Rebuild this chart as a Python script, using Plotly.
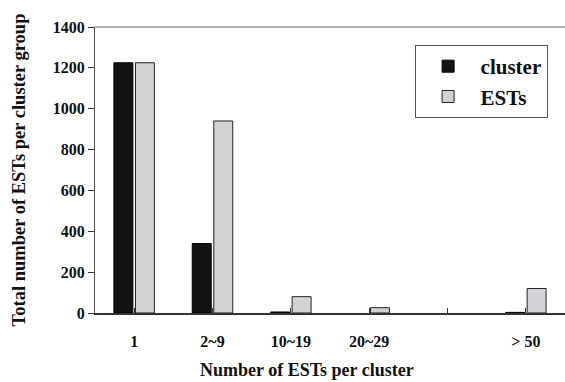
import plotly.graph_objects as go

categories = ["1", "2~9", "10~19", "20~29", "30~49", "> 50"]
tick_labels = ["1", "2~9", "10~19", "20~29", "", "> 50"]
cluster_vals = [1225, 340, 5, None, None, 3]
est_vals = [1225, 940, 80, 26, None, 120]
y_ticks = [0, 200, 400, 600, 800, 1000, 1200, 1400]

font_family = "Liberation Serif"

fig = go.Figure()
fig.add_trace(go.Bar(
    x=categories, y=cluster_vals, name="<b>cluster</b>",
    marker=dict(color="#141414", line=dict(color="#000000", width=1)),
))
fig.add_trace(go.Bar(
    x=categories, y=est_vals, name="<b>ESTs</b>",
    marker=dict(color="#d3d3d5", line=dict(color="#222222", width=1)),
))

fig.update_layout(
    width=565, height=382,
    margin=dict(l=95, r=0, t=27, b=69),
    paper_bgcolor="white", plot_bgcolor="white",
    barmode="group", bargap=0.45, bargroupgap=0.12,
    font=dict(family=font_family, color="#111111", size=16),
    showlegend=True,
    legend=dict(
        x=0.68, y=0.937, xanchor="left", yanchor="top",
        bordercolor="#555555", borderwidth=1, bgcolor="white",
        font=dict(family=font_family, size=21, color="#111111"),
        itemwidth=55, tracegroupgap=0,
    ),
)

fig.update_xaxes(
    type="category",
    tickvals=categories, ticktext=["<b>%s</b>" % t if t else "" for t in tick_labels],
    ticks="inside", ticklen=5, tickcolor="#333333",
    showline=True, linecolor="#333333", linewidth=2,
    showgrid=False, zeroline=False, automargin=False,
    ticklabelstandoff=13,
    tickfont=dict(family=font_family, size=16),
)

fig.update_yaxes(
    range=[0, 1400], tickvals=y_ticks,
    ticktext=["<b>%d</b>" % v for v in y_ticks],
    ticks="outside", ticklen=6, tickcolor="#333333",
    showline=True, linecolor="#555555", linewidth=1, mirror=False,
    showgrid=False, zeroline=False, automargin=False,
    title=dict(text="<b>Total number of ESTs per cluster group</b>", standoff=22,
               font=dict(family=font_family, size=18.5)),
    tickfont=dict(family=font_family, size=16),
)

# x-axis title (placed slightly left of centre as in the reference)
fig.add_annotation(text="<b>Number of ESTs per cluster</b>", xref="paper", yref="paper",
                   x=0.451, y=-0.2, xanchor="center", yanchor="middle", showarrow=False,
                   font=dict(family=font_family, size=18, color="#111111"))

# top frame line
fig.add_shape(type="line", xref="paper", yref="paper", x0=0, x1=1, y0=1, y1=1,
              line=dict(color="#666666", width=1))

fig.write_html("out.html", config={"displayModeBar": False},
               post_script="document.body.style.margin='0';")
